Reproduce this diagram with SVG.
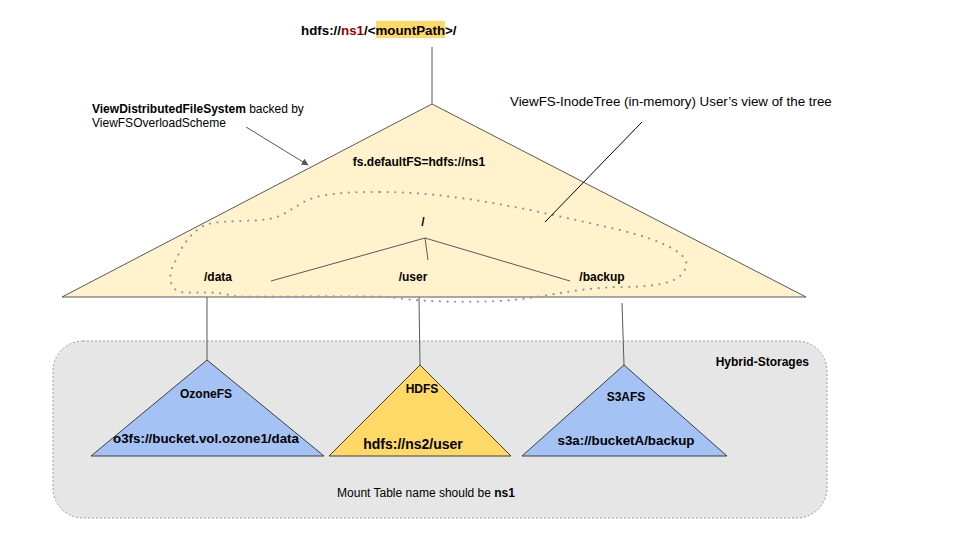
<svg xmlns="http://www.w3.org/2000/svg" width="960" height="540" viewBox="0 0 960 540">
<defs>
<style>
text{font-family:"Liberation Sans",Arial,sans-serif;fill:#000}
.b{font-weight:bold}
.s12{font-size:12px}
.s13{font-size:13.33px}
.c{text-anchor:middle}
.conn{stroke:#595959;stroke-width:1;fill:none}
.tri{stroke:#3d3d3d;stroke-width:1}
</style>
<marker id="ah" viewBox="0 0 10 10" refX="9" refY="5" markerWidth="7" markerHeight="7" orient="auto" markerUnits="userSpaceOnUse">
<path d="M0,0 L10,5 L0,10 z" fill="#595959"/>
</marker>
</defs>
<rect width="960" height="540" fill="#fff"/>

<g id="hybrid-storages">
<rect x="53" y="341" width="774" height="177" rx="30" ry="30" fill="#e6e6e6" stroke="#9a9a9a" stroke-width="1" stroke-dasharray="2 2"/>
<text class="b s12" x="809" y="366" text-anchor="end">Hybrid-Storages</text>
<text class="s12 c" x="426" y="497">Mount Table name should be <tspan class="b">ns1</tspan></text>
</g>

<g id="title">
<rect x="376" y="21" width="69" height="17" fill="#ffd966"/>
<text class="b s13" x="301" y="35">hdfs://<tspan fill="#990000">ns1</tspan>/&lt;mountPath&gt;/</text>
</g>

<g id="viewfs-tree">
<polygon points="432,104 806,297 62,297" fill="#fff2cc" stroke="#595959" stroke-width="1"/>
<text class="b s12 c" x="419" y="166">fs.defaultFS=hdfs://ns1</text>
<path d="M380,192 C460,192 540,212 620,230 C665,241 690,255 686,266 C683,282 660,287 620,287 C572,288 545,298 500,301 C450,303 415,301 390,297 C330,295 258,298 232,296 C215,290 198,294 180,292 C167,288 169,270 175,262 C181,247 191,232 205,225 C222,219 260,223 277,217 C292,211 302,200 320,196 C340,192 360,192 380,192 Z" fill="none" stroke="#999" stroke-width="2.2" stroke-linecap="round" stroke-dasharray="0.1 7.5"/>
<text class="b s12 c" x="423" y="226">/</text>
<text class="b s12 c" x="218" y="281">/data</text>
<text class="b s12 c" x="413" y="281">/user</text>
<text class="b s12 c" x="602" y="281">/backup</text>
</g>

<g id="label-vdfs">
<text class="s12" x="92" y="113"><tspan class="b">ViewDistributedFileSystem</tspan> backed by</text>
<text class="s12" x="92" y="127">ViewFSOverloadScheme</text>
</g>

<g id="label-inodetree">
<text class="s13" x="510" y="106">ViewFS-InodeTree (in-memory) User’s view of the tree</text>
</g>

<g id="ozonefs">
<polygon class="tri" points="207,360 324,456 91,456" fill="#a4c2f4"/>
<text class="b s12 c" x="206" y="398">OzoneFS</text>
<text class="b s13 c" x="206" y="443">o3fs://bucket.vol.ozone1/data</text>
</g>

<g id="hdfs">
<polygon class="tri" points="420,365 511,456 329,456" fill="#ffd966"/>
<text class="b s12 c" x="422" y="393">HDFS</text>
<text class="b c" font-size="14" x="413" y="449">hdfs://ns2/user</text>
</g>

<g id="s3afs">
<polygon class="tri" points="624,365 727,456 522,456" fill="#a4c2f4"/>
<text class="b s12 c" x="626" y="401">S3AFS</text>
<text class="b s13 c" x="626" y="445">s3a://bucketA/backup</text>
</g>

<g id="connectors">
<line class="conn" x1="432" y1="47" x2="432" y2="104"/>
<line class="conn" x1="246" y1="127" x2="308" y2="165" marker-end="url(#ah)"/>
<line x1="642" y1="122" x2="545" y2="222" stroke="#000" stroke-width="1"/>
<line class="conn" x1="425" y1="238" x2="271" y2="281"/>
<line class="conn" x1="425" y1="238" x2="428" y2="260"/>
<line class="conn" x1="425" y1="238" x2="570" y2="281"/>
<line class="conn" x1="207" y1="297" x2="207" y2="360"/>
<line class="conn" x1="419" y1="297" x2="420" y2="365"/>
<line class="conn" x1="622" y1="303" x2="624" y2="365"/>
</g>
</svg>
